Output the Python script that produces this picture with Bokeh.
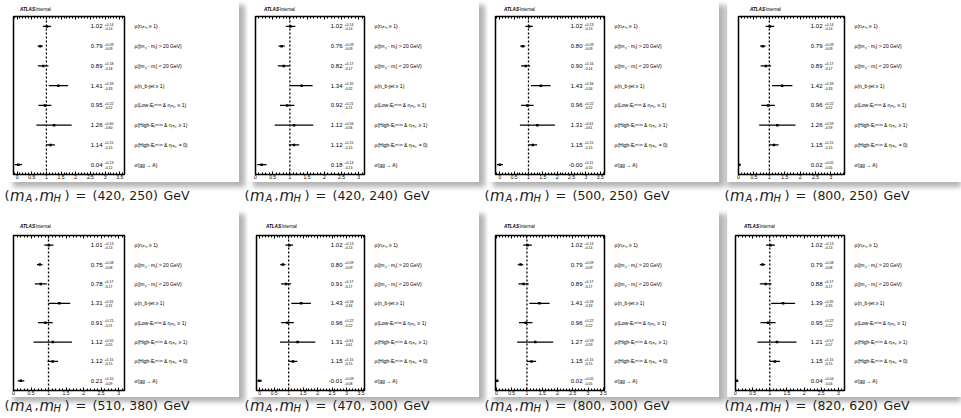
from bokeh.plotting import figure
from bokeh.layouts import row, column
from bokeh.models import (FactorRange, Range1d, LinearAxis, CategoricalAxis,
                          SingleIntervalTicker, NumeralTickFormatter, Span,
                          ColumnDataSource, Spacer)
from bokeh.core.properties import value
from bokeh.embed import file_html
from bokeh.resources import INLINE

# ---------------- data ----------------
mass_points = [(420, 250), (420, 240), (500, 250), (800, 250),
               (510, 380), (470, 300), (800, 300), (820, 620)]

row_labels = [
    "μ(nⱼₑₜₛ ≥ 1)",
    "μ(|mⱼⱼ - mⱼ| > 20 GeV)",
    "μ(|mⱼⱼ - mⱼ| < 20 GeV)",
    "μ(n_b-jet ≥ 1)",
    "μ(Low-Eₜᵐⁱˢˢ & nⱼₑₜₛ ≥ 1)",
    "μ(High-Eₜᵐⁱˢˢ & nⱼₑₜₛ ≥ 1)",
    "μ(High-Eₜᵐⁱˢˢ & nⱼₑₜₛ = 0)",
    "σ(gg → A)",
]

central_420_250 = [1.02, 0.79, 0.89, 1.41, 0.95, 1.26, 1.14, 0.04]
up_420_250 = [0.14, 0.09, 0.18, 0.33, 0.22, 0.60, 0.15, 0.13]
dn_420_250 = [0.14, 0.09, 0.18, 0.33, 0.22, 0.60, 0.15, 0.12]

central_420_240 = [1.02, 0.76, 0.82, 1.34, 0.92, 1.12, 1.12, 0.18]
up_420_240 = [0.14, 0.09, 0.17, 0.32, 0.21, 0.56, 0.15, 0.14]
dn_420_240 = [0.14, 0.09, 0.17, 0.32, 0.21, 0.56, 0.15, 0.13]

central_500_250 = [1.02, 0.80, 0.90, 1.43, 0.96, 1.31, 1.15, -0.0]
up_500_250 = [0.13, 0.09, 0.16, 0.34, 0.22, 0.61, 0.15, 0.11]
dn_500_250 = [0.13, 0.09, 0.16, 0.34, 0.22, 0.61, 0.15, 0.10]

central_800_250 = [1.02, 0.79, 0.89, 1.42, 0.96, 1.26, 1.15, 0.02]
up_800_250 = [0.14, 0.09, 0.17, 0.33, 0.22, 0.59, 0.15, 0.05]
dn_800_250 = [0.14, 0.09, 0.17, 0.33, 0.22, 0.59, 0.15, 0.05]

central_510_380 = [1.01, 0.75, 0.78, 1.31, 0.91, 1.12, 1.12, 0.21]
up_510_380 = [0.13, 0.08, 0.17, 0.31, 0.21, 0.55, 0.15, 0.10]
dn_510_380 = [0.13, 0.08, 0.17, 0.31, 0.21, 0.55, 0.15, 0.09]

central_470_300 = [1.02, 0.80, 0.91, 1.43, 0.96, 1.31, 1.15, -0.01]
up_470_300 = [0.13, 0.09, 0.17, 0.34, 0.22, 0.61, 0.15, 0.09]
dn_470_300 = [0.13, 0.09, 0.17, 0.34, 0.22, 0.61, 0.15, 0.08]

central_800_300 = [1.02, 0.79, 0.89, 1.41, 0.96, 1.27, 1.15, 0.02]
up_800_300 = [0.14, 0.09, 0.17, 0.33, 0.22, 0.59, 0.15, 0.05]
dn_800_300 = [0.14, 0.09, 0.17, 0.33, 0.22, 0.59, 0.15, 0.05]

central_820_620 = [1.02, 0.79, 0.88, 1.39, 0.95, 1.21, 1.15, 0.04]
up_820_620 = [0.13, 0.08, 0.17, 0.35, 0.22, 0.57, 0.15, 0.04]
dn_820_620 = [0.13, 0.08, 0.17, 0.35, 0.22, 0.57, 0.15, 0.04]

x_ranges = [(-0.12, 3.66), (0.0, 3.17), (-0.15, 3.65), (0.0, 3.44),
            (0.0, 3.17), (-0.11, 3.62), (-0.03, 3.54), (0.0, 3.18)]

centrals = [central_420_250, central_420_240, central_500_250, central_800_250,
            central_510_380, central_470_300, central_800_300, central_820_620]
ups = [up_420_250, up_420_240, up_500_250, up_800_250,
       up_510_380, up_470_300, up_800_300, up_820_620]
dns = [dn_420_250, dn_420_240, dn_500_250, dn_800_250,
       dn_510_380, dn_470_300, dn_800_300, dn_820_620]

# ---------------- styling / layout ----------------
FONT = "Liberation Sans"
CAP_FONT = "DejaVu Sans"
CARD_INSET = 7                      # gap left of each card (holds the previous card's shadow)
frame_left = [6, 8, 8, 11, 6, 9, 8, 8]   # frame left edge, relative to the card
FRAME_RIGHT = 117                   # frame right edge, relative to the card
card_widths = [232, 232, 232, 234]
panel_widths = [240, 240, 240, 241]
row_geom = [
    dict(head_h=14, atlas_y=9, card_h=168, top=2, bottom=8, cap_h=27, cap_base=13),
    dict(head_h=24, atlas_y=17, card_h=164, top=2, bottom=5, cap_h=21, cap_base=8),
]


def bare_figure(W, H):
    f = figure(frame_width=W, frame_height=H, output_backend="svg", toolbar_location=None,
               x_range=Range1d(0, W), y_range=Range1d(0, H), title=None,
               x_axis_location=None, y_axis_location=None,
               min_border_left=0, min_border_right=0, min_border_top=0, min_border_bottom=0)
    f.grid.visible = False
    f.outline_line_color = None
    return f


def make_header(i, W, g):
    h = bare_figure(W, g["head_h"])
    h.background_fill_color = "white"
    h.border_fill_color = "white"
    y = g["head_h"] - g["atlas_y"]
    h.text(x=[0], y=[y], text=["ATLAS"], x_offset=frame_left[i] + 0.5, text_baseline="middle",
           text_font=value(FONT), text_font_style="bold italic", text_font_size="4.6px",
           text_color="black")
    h.text(x=[0], y=[y], text=["Internal"], x_offset=frame_left[i] + 16, text_baseline="middle",
           text_font=value(FONT), text_font_size="4.6px", text_color="black")
    return h


def make_card(i, W, g):
    xmin, xmax = x_ranges[i]
    c, u, d = centrals[i], ups[i], dns[i]
    p = figure(width=W, height=g["card_h"], output_backend="svg", toolbar_location=None,
               x_range=Range1d(xmin, xmax), title=None,
               y_range=FactorRange(factors=list(reversed(row_labels))),
               x_axis_location=None, y_axis_location=None,
               min_border_left=frame_left[i], min_border_right=W - FRAME_RIGHT,
               min_border_top=g["top"], min_border_bottom=g["bottom"])
    p.grid.visible = False
    p.outline_line_color = "black"
    p.outline_line_width = 1.5
    p.background_fill_color = "white"
    p.border_fill_color = "white"

    ticker = SingleIntervalTicker(interval=0.5, num_minor_ticks=5)
    for loc in ("below", "above"):
        ax = LinearAxis(ticker=ticker, formatter=NumeralTickFormatter(format="0.[0]"),
                        major_tick_in=3, major_tick_out=0, minor_tick_in=2, minor_tick_out=0,
                        axis_line_color="black", major_tick_line_color="black",
                        minor_tick_line_color="black",
                        major_label_text_font=FONT, major_label_text_font_size="5px",
                        major_label_text_color="black", major_label_standoff=0)
        if loc == "above":
            ax.major_label_text_font_size = "1px"
            ax.major_label_text_color = None
        p.add_layout(ax, loc)

    ra = CategoricalAxis(axis_line_color=None, major_tick_line_color=None,
                         major_label_standoff=4, major_label_text_font=FONT,
                         major_label_text_font_size="5px", major_label_text_color="black")
    p.add_layout(ra, "right")

    p.add_layout(Span(location=1, dimension="height", line_color="black",
                      line_dash="2 2", line_width=1.3))

    src = ColumnDataSource(dict(
        y=row_labels, c=c,
        lo=[a - b for a, b in zip(c, d)], hi=[a + b for a, b in zip(c, u)],
        ctxt=[f"{v:.2f}" for v in c],
        utxt=[f"+{v:.2f}" for v in u], dtxt=[f"-{v:.2f}" for v in d],
        xr=[xmax] * len(c)))
    p.segment(x0="lo", x1="hi", y0="y", y1="y", source=src, line_color="black", line_width=1.3)
    p.scatter(x="c", y="y", source=src, marker="square", size=2.5,
              fill_color="black", line_color=None)
    p.text(x="xr", y="y", text="ctxt", source=src, x_offset=-22, text_align="right",
           text_baseline="middle", text_font=value(FONT), text_font_size="6px", text_color="black")
    p.text(x="xr", y="y", text="utxt", source=src, x_offset=-20, y_offset=-2,
           text_baseline="middle", text_font=value(FONT), text_font_size="3.5px", text_color="black")
    p.text(x="xr", y="y", text="dtxt", source=src, x_offset=-20, y_offset=2.5,
           text_baseline="middle", text_font=value(FONT), text_font_size="3.5px", text_color="black")
    return p


def make_caption(i, W, g):
    H = g["cap_h"]
    q = bare_figure(W, H)
    q.background_fill_color = None
    q.border_fill_color = None
    mA, mH = mass_points[i]
    yb = H - g["cap_base"]
    col = "#1e1e1e"
    x0 = 4
    pieces = [
        (0.0, "(", "normal", 13, 0),
        (5.5, "m", "italic", 15, 0),
        (21.0, "A", "italic", 10, -3),
        (30.0, ",", "normal", 13, 0),
        (35.0, "m", "italic", 15, 0),
        (49.0, "H", "italic", 10, -3),
        (60.0, ")", "normal", 13, 0),
        (71.0, "=", "normal", 13, 0),
        (88.0, f"({mA}, {mH})", "normal", 12.5, 0),
        (159.0, "GeV", "normal", 12.5, 0),
    ]
    for x, t, style, fs, dy in pieces:
        q.text(x=[0], y=[yb + dy], text=[t], x_offset=x0 + x, text_font=value(CAP_FONT),
               text_font_style=style, text_font_size=f"{fs}px", text_baseline="alphabetic",
               text_color=col)
    return q


rows = []
for r in range(2):
    g = row_geom[r]
    panels = []
    for ccol in range(4):
        i = r * 4 + ccol
        W = card_widths[ccol]
        head = make_header(i, W, g)
        card = make_card(i, W, g)
        shadow = "6px 5px 5px rgba(0,0,0,0.30)" if ccol < 3 else "0px 5px 5px rgba(0,0,0,0.30)"
        card_box = column(head, card, spacing=0, styles={"box-shadow": shadow})
        top_part = row(Spacer(width=CARD_INSET, height=1), card_box, spacing=0)
        cap = make_caption(i, panel_widths[ccol], g)
        panels.append(column(top_part, cap, spacing=0))
    rows.append(row(*panels, spacing=0))

layout = column(*rows, spacing=0)

open("out.html", "w").write(file_html(layout, INLINE))
